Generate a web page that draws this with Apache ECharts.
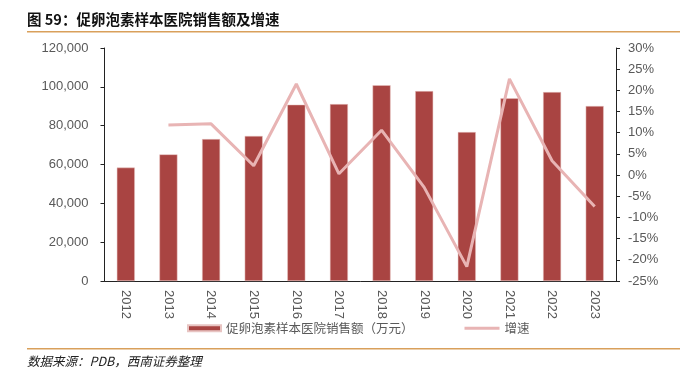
<!DOCTYPE html>
<html><head><meta charset="utf-8">
<script src="https://cdn.jsdelivr.net/npm/echarts@6/dist/echarts.min.js"></script>
<style>html,body{margin:0;padding:0;background:#fff}#c{width:693px;height:373px}</style>
</head><body><div id="c"></div>
<script>
var categories = ['2012','2013','2014','2015','2016','2017','2018','2019','2020','2021','2022','2023'];
var sales = [58400, 65200, 73100, 74700, 90800, 91100, 100800, 97800, 76700, 94100, 97300, 90100];
var growth = [null, 11.8, 12.1, 2.2, 21.5, 0.3, 10.6, -2.9, -21.6, 22.7, 3.4, -7.4];
var salesName = '促卵泡素样本医院销售额（万元）';
var growthName = '增速';
var titleText = '图 59：促卵泡素样本医院销售额及增速';
var sourceText = '数据来源：PDB，西南证券整理';

var chart = echarts.init(document.getElementById('c'));
var font = '"Liberation Sans", Arial, sans-serif';
var cjk = '"Noto Sans CJK SC", sans-serif';
chart.setOption({
  animation: false,
  grid: {left: 104.5, right: 77, top: 48, bottom: 92},
  legend: [
    {left: 182, top: 317, itemWidth: 33, itemHeight: 6,
     textStyle: {color: '#595959', fontSize: 12.5, fontFamily: cjk},
     data: [{name: salesName, icon: 'rect', itemStyle: {color: '#A94442'}}]},
    {left: 458, top: 317, itemWidth: 35, itemHeight: 6,
     textStyle: {color: '#595959', fontSize: 12.5, fontFamily: cjk},
     data: [{name: growthName, itemStyle: {opacity: 0}, lineStyle: {color: '#E8B4B4', width: 3}}]}
  ],
  xAxis: {
    type: 'category', data: categories,
    axisLine: {lineStyle: {color: '#222', width: 1}},
    axisTick: {show: false},
    axisLabel: {rotate: -90, color: '#595959', fontSize: 13, fontFamily: font, margin: 9}
  },
  yAxis: [
    {type: 'value', min: 0, max: 120000, interval: 20000, position: 'left',
     axisLine: {show: true, lineStyle: {color: '#222'}},
     axisTick: {show: true, length: 4, lineStyle: {color: '#222'}},
     splitLine: {show: false},
     axisLabel: {color: '#595959', fontSize: 13, fontFamily: font, margin: 16,
       formatter: function(v){return v.toLocaleString('en-US');}}},
    {type: 'value', min: -25, max: 30, interval: 5, position: 'right',
     axisLine: {show: true, lineStyle: {color: '#222'}},
     axisTick: {show: true, length: 4, lineStyle: {color: '#222'}},
     splitLine: {show: false},
     axisLabel: {color: '#595959', fontSize: 13, fontFamily: font, margin: 12, formatter: '{value}%'}}
  ],
  series: [
    {name: salesName, type: 'bar', data: sales, yAxisIndex: 0, barWidth: 18,
     itemStyle: {color: '#A94442', borderColor: '#E8C4C2', borderWidth: 0.5}},
    {name: growthName, type: 'line', data: growth, yAxisIndex: 1, symbol: 'none',
     lineStyle: {color: '#E8B4B4', width: 3}, itemStyle: {color: '#E8B4B4'}}
  ],
  graphic: [
    {type: 'text', left: 27, top: 12, style: {text: titleText, font: 'bold 14.5px "Noto Sans CJK SC", sans-serif', fill: '#111'}},
    {type: 'rect', shape: {x: 27, y: 31, width: 653, height: 1.5}, style: {fill: '#D9A05B'}},
    {type: 'rect', shape: {x: 27, y: 348, width: 653, height: 1.5}, style: {fill: '#D9A05B'}},
    {type: 'text', left: 27, top: 355, style: {text: sourceText, font: 'italic 12.5px "Noto Sans CJK SC", sans-serif', fill: '#222'}}
  ]
});
</script></body></html>
